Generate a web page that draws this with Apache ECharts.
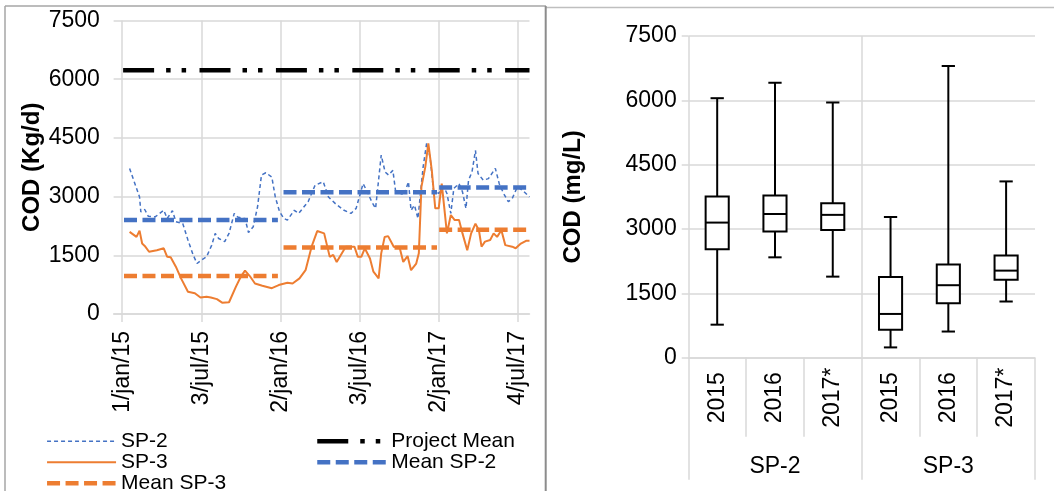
<!DOCTYPE html>
<html>
<head>
<meta charset="utf-8">
<style>
  html, body { margin: 0; padding: 0; background: #ffffff; }
  #chart-container { width: 1054px; height: 491px; }
</style>
<script src="https://cdn.jsdelivr.net/npm/echarts@6/dist/echarts.min.js"></script>
</head>
<body>
<div id="chart-container"></div>
<script>
// ---- left panel: daily COD load (Kg/d) ----
var sp2Dates = ['2015-01-18','2015-02-10','2015-02-13','2015-02-22','2015-03-02','2015-03-18','2015-04-07','2015-04-15','2015-04-27','2015-05-05',
  '2015-05-21','2015-06-02','2015-06-14','2015-06-23','2015-07-03','2015-07-15','2015-07-27','2015-08-04','2015-08-12','2015-08-26',
  '2015-09-05','2015-09-17','2015-09-25','2015-10-07','2015-10-12','2015-10-20','2015-10-31','2015-11-10','2015-11-19','2015-11-29',
  '2015-12-13','2015-12-21','2015-12-31','2016-01-10','2016-01-18','2016-02-03','2016-02-13','2016-03-06','2016-03-22','2016-04-10',
  '2016-04-22','2016-05-08','2016-05-28','2016-06-13','2016-06-25','2016-07-11','2016-07-21','2016-07-31','2016-08-09','2016-08-22',
  '2016-08-31','2016-09-08','2016-09-18','2016-09-24','2016-10-06','2016-10-14','2016-10-24','2016-10-30','2016-11-07','2016-11-15',
  '2016-11-27','2016-12-05','2016-12-13','2016-12-21','2017-01-02','2017-01-14','2017-01-21','2017-01-30','2017-02-06','2017-02-18',
  '2017-02-26','2017-03-06','2017-03-12','2017-03-20','2017-03-28','2017-04-03','2017-04-15','2017-04-27','2017-05-13','2017-05-22',
  '2017-06-01','2017-06-12','2017-06-21','2017-07-03','2017-07-15','2017-07-31'];
var sp2Values = [3720, 2990, 2610, 2670, 2500, 2480, 2650, 2440, 2640, 2360,
  2310, 1890, 1510, 1290, 1380, 1460, 1760, 2060, 1930, 1850,
  2060, 2570, 2480, 2440, 2440, 2080, 2230, 2740, 3550, 3610,
  3500, 2990, 2610, 2440, 2400, 2650, 2570, 2870, 3290, 3380,
  2990, 2820, 2650, 2570, 2700, 3330, 3120, 2870, 2700, 4060,
  3630, 3550, 3670, 3160, 3080, 3040, 3380, 2650, 2780, 2440,
  3760, 4360, 4010, 3160, 3080, 3250, 3080, 2570, 3210, 3330,
  3120, 2700, 3420, 3630, 4180, 3590, 3420, 3460, 3720, 3330,
  3080, 2870, 2950, 3250, 3160, 2990];

var sp3Dates = ['2015-01-18','2015-02-03','2015-02-10','2015-02-16','2015-02-22','2015-03-04','2015-03-22','2015-04-07','2015-04-15','2015-04-23',
  '2015-05-05','2015-05-17','2015-06-02','2015-06-18','2015-07-01','2015-07-15','2015-07-25','2015-08-08','2015-08-20','2015-09-05',
  '2015-09-21','2015-10-03','2015-10-12','2015-10-23','2015-11-04','2015-11-21','2015-12-13','2015-12-29','2016-01-18','2016-01-30',
  '2016-02-15','2016-02-29','2016-03-14','2016-03-27','2016-04-12','2016-04-25','2016-05-03','2016-05-11','2016-06-01','2016-06-21',
  '2016-06-29','2016-07-07','2016-07-15','2016-07-27','2016-08-04','2016-08-16','2016-08-22','2016-08-30','2016-09-07','2016-09-20',
  '2016-10-04','2016-10-12','2016-10-22','2016-10-30','2016-11-11','2016-11-17','2016-11-23','2016-12-02','2016-12-09','2016-12-17',
  '2016-12-25','2017-01-02','2017-01-09','2017-01-15','2017-01-21','2017-01-30','2017-02-08','2017-02-18','2017-02-26','2017-03-09',
  '2017-03-18','2017-03-28','2017-04-05','2017-04-11','2017-04-19','2017-05-01','2017-05-09','2017-05-17','2017-05-27','2017-06-05',
  '2017-06-21','2017-06-29','2017-07-11','2017-07-23','2017-07-31'];
var sp3Values = [2100, 1970, 2130, 1800, 1740, 1590, 1630, 1680, 1460, 1450,
  1210, 910, 570, 530, 420, 440, 420, 380, 290, 300,
  700, 970, 1110, 970, 780, 720, 660, 740, 800, 780,
  910, 1120, 1720, 2120, 2060, 1460, 1510, 1330, 1720, 1720,
  1460, 1460, 1680, 1420, 1080, 910, 1550, 1970, 1990, 1720,
  1680, 1330, 1480, 1120, 1290, 1550, 3250, 3760, 4360, 3670,
  2700, 2700, 3330, 2700, 2060, 2530, 2400, 2400, 2060, 1630,
  2060, 2310, 2140, 1720, 1850, 1890, 2060, 1970, 2140, 1760,
  1720, 1680, 1800, 1870, 1870];

var meanStart = ['2015-01-05', '2016-01-09', '2017-01-03'];
var meanEnd = ['2015-12-27', '2016-12-29', '2017-07-31'];
var meanSp2 = [2400, 3110, 3230];
var meanSp3 = [970, 1700, 2150];
var projectSpan = ['2015-01-03', '2017-07-31'];
var projectMean = 6230;

var dateTicks = ['2015-01-01', '2015-07-03', '2016-01-02', '2016-07-03', '2017-01-02', '2017-07-04'];
var monthNames = ['jan', 'feb', 'mar', 'apr', 'may', 'jun', 'jul', 'aug', 'sep', 'oct', 'nov', 'dec'];

// ---- right panel: COD concentration box plots (mg/L) ----
var years = ['2015', '2016', '2017*', '2015', '2016', '2017*'];
var sites = ['SP-2', 'SP-3'];
var boxMin = [770, 2340, 1890, 240, 610, 1310];
var boxQ1 = [2530, 2940, 2980, 650, 1270, 1820];
var boxMedian = [3150, 3350, 3330, 1020, 1690, 2030];
var boxQ3 = [3760, 3780, 3600, 1880, 2170, 2380];
var boxMax = [6050, 6410, 5950, 3280, 6800, 4110];

var BLUE = '#4472C4';
var ORANGE = '#ED7D31';
var GRID = '#d9d9d9';
var FONT = '"Liberation Sans", Arial, sans-serif';

function toTime(s) {
    var p = s.split('-');
    return new Date(+p[0], +p[1] - 1, +p[2]).getTime();
}

function pairs(dates, vals) {
    return dates.map(function (d, i) { return [toTime(d), vals[i]]; });
}

function segments(vals) {
    var out = [];
    vals.forEach(function (v, i) {
        if (i > 0) out.push([toTime(meanStart[i]), '-']);
        out.push([toTime(meanStart[i]), v]);
        out.push([toTime(meanEnd[i]), v]);
    });
    return out;
}

var tickTimes = dateTicks.map(toTime);

function dateLabel(value) {
    var d = new Date(value);
    return d.getDate() + '/' + monthNames[d.getMonth()] + '/' + String(d.getFullYear()).slice(2);
}

function plainNumber(v) {
    return String(v);
}

var boxData = years.map(function (y, i) {
    return [i, boxMin[i], boxQ1[i], boxMedian[i], boxQ3[i], boxMax[i]];
});

function renderBox(params, api) {
    var x = api.value(0);
    var lo = api.coord([x, api.value(1)]);
    var q1 = api.coord([x, api.value(2)]);
    var md = api.coord([x, api.value(3)]);
    var q3 = api.coord([x, api.value(4)]);
    var hi = api.coord([x, api.value(5)]);
    var band = api.size([1, 0])[0];
    var bw = band * 0.4;
    var cw = band * 0.23;
    var cx = lo[0];
    var ln = { stroke: '#000', lineWidth: 2 };
    return {
        type: 'group',
        children: [
            { type: 'line', shape: { x1: cx, y1: hi[1], x2: cx, y2: q3[1] }, style: ln },
            { type: 'line', shape: { x1: cx, y1: q1[1], x2: cx, y2: lo[1] }, style: ln },
            { type: 'line', shape: { x1: cx - cw / 2, y1: hi[1], x2: cx + cw / 2, y2: hi[1] }, style: ln },
            { type: 'line', shape: { x1: cx - cw / 2, y1: lo[1], x2: cx + cw / 2, y2: lo[1] }, style: ln },
            { type: 'rect', shape: { x: cx - bw / 2, y: q3[1], width: bw, height: q1[1] - q3[1] },
              style: { stroke: '#000', lineWidth: 2, fill: '#fff' } },
            { type: 'line', shape: { x1: cx - bw / 2, y1: md[1], x2: cx + bw / 2, y2: md[1] }, style: ln }
        ]
    };
}

var dom = document.getElementById('chart-container');
var myChart = echarts.init(dom, null, { renderer: 'canvas' });

var legendText = { fontSize: 21, lineHeight: 20.5, color: '#000', fontFamily: FONT };

var option = {
    animation: false,
    backgroundColor: '#fff',
    textStyle: { fontFamily: FONT },
    grid: [
        { left: 113.6, right: 524.5, top: 20.5, bottom: 177 },
        { left: 688.3, right: 19, top: 36, bottom: 133.3 }
    ],
    legend: [
        {
            orient: 'vertical', left: 44.8, top: 430.8, height: 80, padding: 0, itemGap: 0,
            itemWidth: 69, itemHeight: 12, textStyle: legendText,
            itemStyle: { opacity: 0 },
            data: [
                { name: 'SP-2', lineStyle: { width: 1.5 } },
                { name: 'SP-3', lineStyle: { width: 2 } },
                { name: 'Mean SP-3', lineStyle: { width: 4.5 } }
            ]
        },
        {
            orient: 'vertical', left: 315, top: 430.8, height: 80, padding: 0, itemGap: 0,
            itemWidth: 69, itemHeight: 12, textStyle: legendText,
            itemStyle: { opacity: 0 },
            data: [
                { name: 'Project Mean', lineStyle: { width: 4.5 } },
                { name: 'Mean SP-2', lineStyle: { width: 4.5 } }
            ]
        }
    ],
    xAxis: [
        {
            // dates as timestamps on a value axis, labelled only on the picture's dates
            type: 'value', gridIndex: 0,
            min: toTime('2014-12-12'), max: toTime('2017-07-31'),
            axisLine: { show: true, lineStyle: { color: GRID, width: 1.5 } },
            axisTick: { show: true, customValues: tickTimes, length: 8, lineStyle: { color: GRID, width: 1.5 } },
            axisLabel: { customValues: tickTimes, rotate: 90, margin: 17, fontSize: 23, color: '#000', formatter: dateLabel },
            splitLine: { show: true, lineStyle: { color: GRID, width: 1.5 } }
        },
        {
            type: 'category', gridIndex: 1, data: years, position: 'bottom', offset: 0,
            axisLine: { show: true, lineStyle: { color: GRID, width: 1.5 } },
            axisTick: { show: true, interval: 0, length: 79, lineStyle: { color: GRID, width: 1.5 } },
            axisLabel: { interval: 0, rotate: 90, align: 'center', margin: 40, fontSize: 23, color: '#000' },
            splitLine: { show: false }
        },
        {
            type: 'category', gridIndex: 1, data: sites, position: 'bottom', offset: 0,
            axisLine: { show: false },
            axisTick: { show: true, interval: 0, length: 122, lineStyle: { color: GRID, width: 1.5 } },
            axisLabel: { interval: 0, margin: 97, fontSize: 23, color: '#000' },
            splitLine: { show: true, showMaxLine: false, lineStyle: { color: GRID, width: 1.5 } }
        }
    ],
    yAxis: [
        {
            type: 'value', gridIndex: 0, min: 0, max: 7500, interval: 1500,
            axisLine: { show: false }, axisTick: { show: false },
            axisLabel: { fontSize: 23, margin: 13.7, color: '#000', formatter: plainNumber },
            splitLine: { lineStyle: { color: GRID, width: 1.5 } },
            name: 'COD (Kg/d)', nameLocation: 'middle', nameGap: 60,
            nameTextStyle: { fontSize: 24, fontWeight: 'bold', color: '#000' }
        },
        {
            type: 'value', gridIndex: 1, min: 0, max: 7500, interval: 1500,
            axisLine: { show: false },
            axisTick: { show: true, length: 6.6, lineStyle: { color: GRID, width: 1.5 } },
            axisLabel: { fontSize: 23, margin: 11.6, color: '#000', formatter: plainNumber },
            splitLine: { lineStyle: { color: GRID, width: 1.5 } },
            name: 'COD (mg/L)', nameLocation: 'middle', nameGap: 103,
            nameTextStyle: { fontSize: 24, fontWeight: 'bold', color: '#000' }
        }
    ],
    series: [
        {
            name: 'SP-2', type: 'line', xAxisIndex: 0, yAxisIndex: 0, symbol: 'none',
            itemStyle: { color: BLUE },
            lineStyle: { color: BLUE, width: 1.5, type: [4, 3] },
            data: pairs(sp2Dates, sp2Values)
        },
        {
            name: 'SP-3', type: 'line', xAxisIndex: 0, yAxisIndex: 0, symbol: 'none',
            itemStyle: { color: ORANGE },
            lineStyle: { color: ORANGE, width: 2 },
            data: pairs(sp3Dates, sp3Values)
        },
        {
            name: 'Mean SP-3', type: 'line', xAxisIndex: 0, yAxisIndex: 0, symbol: 'none',
            itemStyle: { color: ORANGE },
            lineStyle: { color: ORANGE, width: 4.5, type: [13, 5.5] },
            data: segments(meanSp3)
        },
        {
            name: 'Project Mean', type: 'line', xAxisIndex: 0, yAxisIndex: 0, symbol: 'none',
            itemStyle: { color: '#000' },
            lineStyle: { color: '#000', width: 4.5, type: [31, 12, 4.5, 11, 4.5, 13.4] },
            data: [[toTime(projectSpan[0]), projectMean], [toTime(projectSpan[1]), projectMean]]
        },
        {
            name: 'Mean SP-2', type: 'line', xAxisIndex: 0, yAxisIndex: 0, symbol: 'none',
            itemStyle: { color: BLUE },
            lineStyle: { color: BLUE, width: 4.5, type: [13, 5.5] },
            data: segments(meanSp2)
        },
        {
            name: 'COD box', type: 'custom', xAxisIndex: 1, yAxisIndex: 1,
            renderItem: renderBox,
            encode: { x: 0, y: [1, 2, 3, 4, 5] },
            data: boxData
        }
    ],
    graphic: [
        { type: 'line', shape: { x1: 5, y1: 6, x2: 546, y2: 6 }, style: { stroke: '#a6a6a6', lineWidth: 1.5 } },
        { type: 'line', shape: { x1: 546, y1: 7.5, x2: 1054, y2: 7.5 }, style: { stroke: '#bfbfbf', lineWidth: 1.5 } },
        { type: 'line', shape: { x1: 5, y1: 6, x2: 5, y2: 491 }, style: { stroke: '#a6a6a6', lineWidth: 1.5 } },
        { type: 'line', shape: { x1: 545.7, y1: 6, x2: 545.7, y2: 491 }, style: { stroke: '#8c8c8c', lineWidth: 2 } }
    ]
};

myChart.setOption(option);
window.addEventListener('resize', myChart.resize);
</script>
</body>
</html>
